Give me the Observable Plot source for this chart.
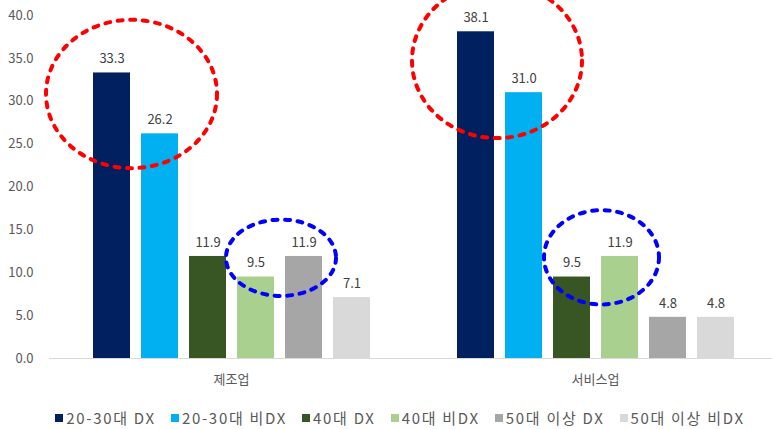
<!DOCTYPE html>
<html>
<head>
<meta charset="utf-8">
<script src="https://cdn.jsdelivr.net/npm/d3@7"></script>
<script src="https://cdn.jsdelivr.net/npm/@observablehq/plot@0.6"></script>
<style>
  body { margin: 0; background: #fff; font-family: "Noto Sans CJK KR", "Noto Sans", sans-serif; }
  #chart { width: 772px; }
  .legend { display: flex; justify-content: center; box-sizing: border-box; width: 772px;
            padding-left: 28px; margin-top: 6px; height: 24px; line-height: 24px;
            font-size: 15px; letter-spacing: 1.7px; color: #595959; gap: 15px; white-space: nowrap; }
  .legend .item { display: flex; align-items: center; }
  .legend .sw { display: inline-block; width: 8px; height: 8px; margin-right: 3px; }
</style>
</head>
<body>
<div id="chart"></div>
<script>
// Industries (outer groups) and age / DX-adoption series (bars within each group)
const industries = ["제조업", "서비스업"];
const series = ["20-30대 DX", "20-30대 비DX", "40대 DX", "40대 비DX", "50대 이상 DX", "50대 이상 비DX"];
const seriesColors = ["#002060", "#00B0F0", "#375623", "#A9D08E", "#A6A6A6", "#D9D9D9"];

// Shares (%) per series, one array per industry
const manufacturing = [33.3, 26.2, 11.9, 9.5, 11.9, 7.1];
const services = [38.1, 31.0, 9.5, 11.9, 4.8, 4.8];

const yTicks = [0, 5, 10, 15, 20, 25, 30, 35, 40];

// Dashed highlight rings: which pair of bars they circle and the value span they cover
const highlights = [
  {industry: "제조업", from: "20-30대 DX", to: "20-30대 비DX", top: 39.5, bottom: 22.2, color: "#FF0000"},
  {industry: "제조업", from: "40대 비DX", to: "50대 이상 DX", top: 16.2, bottom: 7.3, color: "#0000FF"},
  {industry: "서비스업", from: "20-30대 DX", to: "20-30대 비DX", top: 43.8, bottom: 25.7, color: "#FF0000"},
  {industry: "서비스업", from: "40대 DX", to: "40대 비DX", top: 17.3, bottom: 6.3, color: "#0000FF"}
];
// Horizontal overhang of each ring beyond its bar centres (left, right), in pixels
const ringOverhang = [[66, 57], [30, 32], [64, 58], [28, 39]];

const rows = industries.flatMap((industry, i) =>
  series.map((s, j) => ({industry, series: s, value: (i === 0 ? manufacturing : services)[j]}))
);

// A d3 curve that draws an ellipse around the bounding box of the points it receives
function ellipseCurve([padL, padR]) {
  return (context) => {
    let pts = [];
    return {
      areaStart() {}, areaEnd() {},
      lineStart() { pts = []; },
      point(x, y) { pts.push([+x, +y]); },
      lineEnd() {
        const xs = pts.map(p => p[0]), ys = pts.map(p => p[1]);
        const x0 = Math.min(...xs) - padL, x1 = Math.max(...xs) + padR;
        const y0 = Math.min(...ys), y1 = Math.max(...ys);
        const cx = (x0 + x1) / 2, cy = (y0 + y1) / 2, rx = (x1 - x0) / 2, ry = (y1 - y0) / 2;
        const k = 0.5523;
        context.moveTo(cx + rx, cy);
        context.bezierCurveTo(cx + rx, cy + k * ry, cx + k * rx, cy + ry, cx, cy + ry);
        context.bezierCurveTo(cx - k * rx, cy + ry, cx - rx, cy + k * ry, cx - rx, cy);
        context.bezierCurveTo(cx - rx, cy - k * ry, cx - k * rx, cy - ry, cx, cy - ry);
        context.bezierCurveTo(cx + k * rx, cy - ry, cx + rx, cy - k * ry, cx + rx, cy);
        context.closePath();
      }
    };
  };
}

const rings = highlights.map((h, i) =>
  Plot.line(
    [{industry: h.industry, series: h.from, value: h.top}, {industry: h.industry, series: h.to, value: h.bottom}],
    {fx: "industry", x: "series", y: "value", stroke: h.color, strokeWidth: 4,
     strokeDasharray: "5,7.5", curve: ellipseCurve(ringOverhang[i])}
  )
);

const chart = Plot.plot({
  width: 772,
  height: 400,
  marginTop: 15,
  marginBottom: 42,
  marginLeft: 49,
  marginRight: 0,
  style: {fontFamily: '"Noto Sans CJK KR", "Noto Sans", sans-serif', fontSize: "13px", color: "#595959", background: "#fff"},
  fx: {domain: industries, range: [49, 777], padding: 0, label: null, tickSize: 0, tickPadding: 16, fontSize: 14},
  x: {domain: series, axis: null, paddingInner: 0.23, paddingOuter: 0.86},
  y: {domain: [0, 40], ticks: yTicks, tickFormat: d => d.toFixed(1), tickSize: 0, tickPadding: 16, label: null},
  color: {domain: series, range: seriesColors},
  marks: [
    Plot.barY(rows, {fx: "industry", x: "series", y: "value", fill: "series"}),
    Plot.ruleY([0], {stroke: "#d9d9d9", strokeWidth: 1}),
    Plot.text(rows, {fx: "industry", x: "series", y: "value", text: d => d.value.toFixed(1),
                     dy: -14, fill: "#404040", fontSize: 13}),
    ...rings
  ]
});
document.getElementById("chart").appendChild(chart);

// Legend below the plot
const legend = document.createElement("div");
legend.className = "legend";
series.forEach((s, i) => {
  const item = document.createElement("span");
  item.className = "item";
  const sw = document.createElement("span");
  sw.className = "sw";
  sw.style.background = seriesColors[i];
  item.appendChild(sw);
  item.appendChild(document.createTextNode(s));
  legend.appendChild(item);
});
document.getElementById("chart").appendChild(legend);
</script>
</body>
</html>
